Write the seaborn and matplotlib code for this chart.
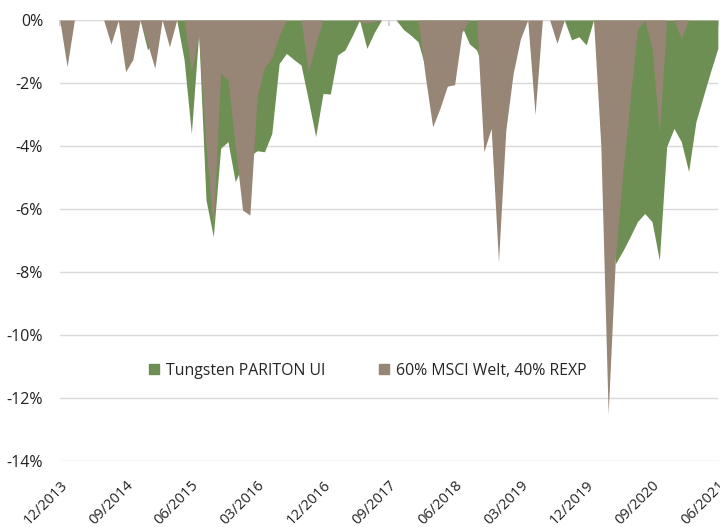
import numpy as np
import pandas as pd
import seaborn as sns
import matplotlib.pyplot as plt
from matplotlib.patches import Patch

# monthly drawdowns in %, 12/2013 .. 06/2021
months = pd.date_range("2013-12-01", "2021-06-01", freq="MS")

pariton = [
    0, 0, 0, 0, 0, 0, 0, 0, 0, 0, 0, 0,
    -0.95, -0.5, 0, 0, 0, -1.25, -3.6, -0.42, -5.71, -6.88, -4.07, -3.86,
    -5.13, -4.6, -4.3, -4.15, -4.18, -3.6, -1.38, -1.06, -1.25, -1.43, -2.54, -3.7,
    -2.33, -2.35, -1.11, -0.95, -0.5, 0, -0.9, -0.4, 0, 0, 0, -0.3,
    -0.48, -0.69, -1.5, -1.0, -0.8, -0.6, -0.4, -0.2, -0.75, -0.95, -1.6, -1.0,
    -1.2, -0.8, -0.3, 0, 0, 0, 0, 0, 0, 0, -0.63, -0.53,
    -0.79, 0, -1.5, -5.0, -7.73, -7.33, -6.88, -6.4, -6.14, -6.4, -7.62, -4.02,
    -3.44, -3.86, -4.81, -3.23, -2.43, -1.64, -0.9,
]

benchmark = [
    0, -1.48, 0, 0, 0, 0, 0, -0.76, -0.02, -1.64, -1.25, 0,
    -0.75, -1.53, 0, -0.85, 0, 0, -1.64, -0.48, -4.0, -6.6, -1.69, -1.9,
    -4.0, -6.03, -6.19, -2.43, -1.5, -1.22, -0.5, 0, 0, 0, -1.64, -0.78,
    0, 0, 0, 0, 0, -0.05, -0.1, -0.05, 0, 0, 0, 0,
    0, 0, -1.8, -3.39, -2.8, -2.1, -2.05, -0.4, 0, 0, -4.18, -3.44,
    -7.67, -3.5, -1.7, -0.6, 0, -3.0, 0, 0, -0.74, 0, 0, 0,
    0, 0, -4.0, -12.5, -7.5, -4.87, -2.54, -0.3, 0, -0.9, -3.6, 0,
    0, -0.6, 0, 0, 0, 0, 0,
]

labels = ["Tungsten PARITON UI", "60% MSCI Welt, 40% REXP"]
colors = ["#6e8f53", "#978575"]

df = pd.DataFrame({"month": months, "pariton": pariton, "benchmark": benchmark})
df["idx"] = np.arange(len(df))

sns.set_theme(style="white")
plt.rcParams["font.family"] = ["Open Sans", "DejaVu Sans"]

fig = plt.figure(figsize=(7.2, 5.27), dpi=100)
ax = fig.add_axes([0.083, 0.125, 0.914, 0.837])

ax.fill_between(df["idx"], 0, df["pariton"], color=colors[0], linewidth=0, zorder=2)
ax.fill_between(df["idx"], 0, df["benchmark"], color=colors[1], linewidth=0, zorder=3)

ax.set_xlim(0, len(df) - 1)
ax.set_ylim(-14, 0)

yt = np.arange(-14, 1, 2)
ax.set_yticks(yt)
ax.set_yticklabels([f"{v}%" for v in yt], fontsize=11.5, color="#222222")
ax.yaxis.grid(True, color="#d9d9d9", linewidth=1)
ax.tick_params(axis="y", length=0, pad=12)

xt = df["idx"][::9]
ax.set_xticks(xt)
ax.set_xticklabels(df["month"][::9].dt.strftime("%m/%Y"), rotation=45, ha="right",
                   rotation_mode="anchor", fontsize=10.5, color="#222222")
ax.tick_params(axis="x", direction="in", top=True, bottom=False, labelbottom=True,
               length=4, color="#cccccc", pad=12)

for s in ax.spines.values():
    s.set_visible(False)
ax.set_xlabel("")
ax.set_ylabel("")

handles = [Patch(color=c) for c in colors]
ax.legend(handles, labels, loc="center", bbox_to_anchor=(0.468, 0.205), ncol=2,
          frameon=False, fontsize=11.4, handlelength=0.65, handleheight=0.65,
          handletextpad=0.4, columnspacing=3.4)

fig.savefig("out.png", dpi=100)
